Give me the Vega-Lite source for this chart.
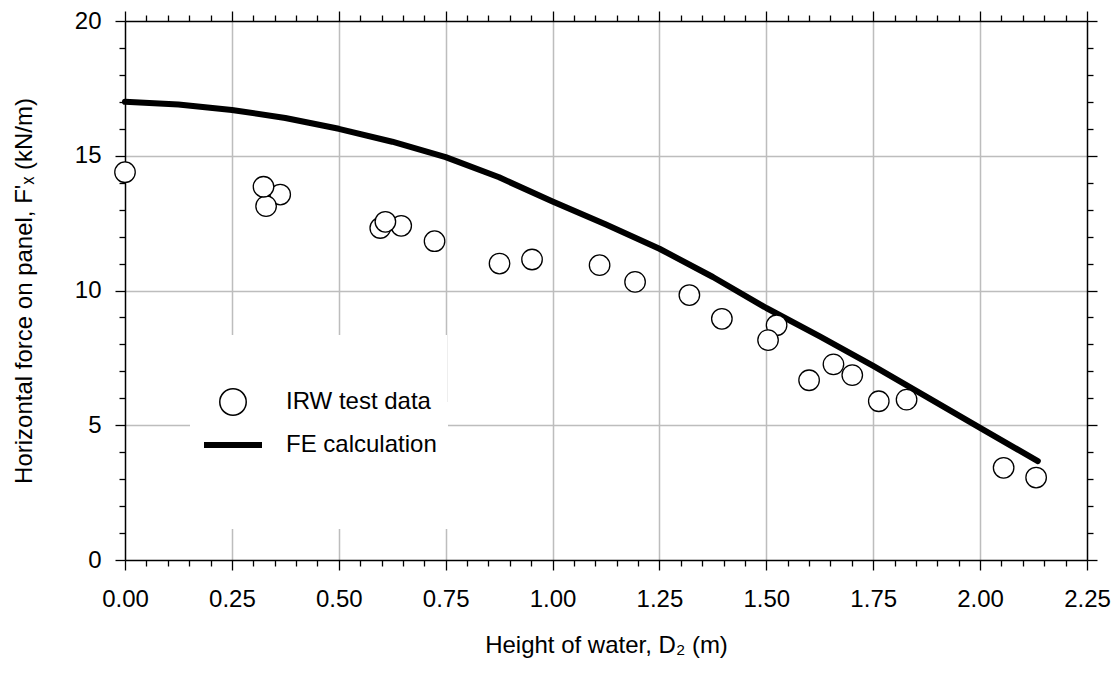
{
  "$schema": "https://vega.github.io/schema/vega-lite/v6.json",
  "autosize": {"type": "none"},
  "padding": {"left": 125, "top": 21, "right": 32, "bottom": 113},
  "width": 962,
  "height": 539,
  "background": "white",
  "config": {
    "view": {"stroke": null},
    "font": "Liberation Sans",
    "axis": {
      "domainColor": "black",
      "domainWidth": 1.5,
      "tickColor": "black",
      "tickWidth": 1.3,
      "labelFont": "Liberation Sans",
      "labelFontSize": 24,
      "labelColor": "black",
      "titleFont": "Liberation Sans",
      "titleFontSize": 24,
      "titleFontWeight": "normal",
      "titleColor": "black",
      "gridColor": "#bdbdbd",
      "gridWidth": 1.5,
      "labelOverlap": false,
      "labelFlush": false,
      "labelBound": false
    },
    "legend": {
      "labelFont": "Liberation Sans",
      "labelFontSize": 24,
      "labelColor": "black",
      "titleFont": "Liberation Sans",
      "titleFontWeight": "normal",
      "titleColor": "black",
      "fillColor": "white",
      "orient": "none",
      "symbolOpacity": 1
    }
  },
  "datasets": {
    "irw": [
      {"x": 0.0, "y": 14.39, "series": "IRW test data"},
      {"x": 0.363, "y": 13.56, "series": "IRW test data"},
      {"x": 0.33, "y": 13.13, "series": "IRW test data"},
      {"x": 0.324, "y": 13.85, "series": "IRW test data"},
      {"x": 0.597, "y": 12.32, "series": "IRW test data"},
      {"x": 0.646, "y": 12.4, "series": "IRW test data"},
      {"x": 0.609, "y": 12.55, "series": "IRW test data"},
      {"x": 0.724, "y": 11.83, "series": "IRW test data"},
      {"x": 0.876, "y": 11.0, "series": "IRW test data"},
      {"x": 0.952, "y": 11.15, "series": "IRW test data"},
      {"x": 1.11, "y": 10.94, "series": "IRW test data"},
      {"x": 1.193, "y": 10.32, "series": "IRW test data"},
      {"x": 1.32, "y": 9.83, "series": "IRW test data"},
      {"x": 1.396, "y": 8.95, "series": "IRW test data"},
      {"x": 1.524, "y": 8.71, "series": "IRW test data"},
      {"x": 1.504, "y": 8.16, "series": "IRW test data"},
      {"x": 1.6, "y": 6.67, "series": "IRW test data"},
      {"x": 1.701, "y": 6.86, "series": "IRW test data"},
      {"x": 1.657, "y": 7.26, "series": "IRW test data"},
      {"x": 1.763, "y": 5.89, "series": "IRW test data"},
      {"x": 1.828, "y": 5.95, "series": "IRW test data"},
      {"x": 2.055, "y": 3.42, "series": "IRW test data"},
      {"x": 2.131, "y": 3.06, "series": "IRW test data"}
    ],
    "fe": [
      {"x": 0.0, "y": 17.0, "series": "FE calculation"},
      {"x": 0.125, "y": 16.9, "series": "FE calculation"},
      {"x": 0.25, "y": 16.7, "series": "FE calculation"},
      {"x": 0.375, "y": 16.4, "series": "FE calculation"},
      {"x": 0.5, "y": 16.0, "series": "FE calculation"},
      {"x": 0.625, "y": 15.52, "series": "FE calculation"},
      {"x": 0.75, "y": 14.95, "series": "FE calculation"},
      {"x": 0.875, "y": 14.2, "series": "FE calculation"},
      {"x": 1.0, "y": 13.3, "series": "FE calculation"},
      {"x": 1.125, "y": 12.45, "series": "FE calculation"},
      {"x": 1.25, "y": 11.55, "series": "FE calculation"},
      {"x": 1.375, "y": 10.5, "series": "FE calculation"},
      {"x": 1.5, "y": 9.35, "series": "FE calculation"},
      {"x": 1.625, "y": 8.3, "series": "FE calculation"},
      {"x": 1.75, "y": 7.2, "series": "FE calculation"},
      {"x": 1.875, "y": 6.05, "series": "FE calculation"},
      {"x": 2.0, "y": 4.9, "series": "FE calculation"},
      {"x": 2.135, "y": 3.67, "series": "FE calculation"}
    ]
  },
  "resolve": {"axis": {"x": "independent", "y": "independent"}},
  "layer": [
    {
      "data": {"name": "fe"},
      "mark": {"type": "line", "strokeWidth": 6, "strokeCap": "round", "strokeJoin": "round"},
      "encoding": {
        "x": {
          "field": "x", "type": "quantitative",
          "scale": {"domain": [0, 2.25], "nice": false, "zero": false},
          "axis": {
            "orient": "bottom",
            "title": "Height of water, D₂ (m)",
            "values": [0,0.05,0.1,0.15,0.2,0.25,0.3,0.35,0.4,0.45,0.5,0.55,0.6,0.65,0.7,0.75,0.8,0.85,0.9,0.95,1,1.05,1.1,1.15,1.2,1.25,1.3,1.35,1.4,1.45,1.5,1.55,1.6,1.65,1.7,1.75,1.8,1.85,1.9,1.95,2,2.05,2.1,2.15,2.2,2.25],
            "labelExpr": "abs(datum.value*4 - round(datum.value*4)) < 0.001 ? format(datum.value, '.2f') : ''",
            "tickSize": {"condition": {"test": "abs(datum.value*4 - round(datum.value*4)) < 0.001", "value": 10}, "value": 6},
            "grid": true,
            "gridOpacity": {"condition": {"test": "abs(datum.value*4 - round(datum.value*4)) < 0.001 && datum.value > 0.001 && datum.value < 2.249", "value": 1}, "value": 0},
            "labelPadding": 17,
            "titlePadding": 22
          }
        },
        "y": {
          "field": "y", "type": "quantitative",
          "scale": {"domain": [0, 20], "nice": false},
          "axis": {
            "orient": "left",
            "title": "Horizontal force on panel, F'ₓ (kN/m)",
            "values": [0,1,2,3,4,5,6,7,8,9,10,11,12,13,14,15,16,17,18,19,20],
            "labelExpr": "datum.value % 5 == 0 ? format(datum.value, 'd') : ''",
            "tickSize": {"condition": {"test": "datum.value % 5 == 0", "value": 10}, "value": 6},
            "grid": true,
            "gridOpacity": {"condition": {"test": "datum.value % 5 == 0 && datum.value > 0 && datum.value < 20", "value": 1}, "value": 0},
            "labelPadding": 14,
            "titlePadding": 38
          }
        },
        "color": {
          "field": "series", "type": "nominal",
          "scale": {"domain": ["FE calculation"], "range": ["black"]},
          "legend": {
            "title": "\u00a0\u00a0\u00a0\u00a0\u00a0\u00a0\u00a0\u00a0\u00a0\u00a0\u00a0\u00a0\u00a0\u00a0\u00a0\u00a0\u00a0\u00a0\u00a0\u00a0\u00a0\u00a0\u00a0\u00a0\u00a0\u00a0\u00a0\u00a0\u00a0\u00a0\u00a0\u00a0\u00a0\u00a0\u00a0\u00a0\u00a0\u00a0\u00a0\u00a0\u00a0\u00a0\u00a0\u00a0\u00a0\u00a0\u00a0\u00a0\u00a0\u00a0\u00a0",
            "titleOrient": "bottom",
            "titleFontSize": 20,
            "titlePadding": 41,
            "legendX": 65,
            "legendY": 381,
            "padding": 11,
            "zindex": 1,
            "symbolType": "stroke",
            "symbolSize": 3364,
            "symbolStrokeWidth": 6,
            "labelOffset": 21,
            "encode": {
              "symbols": {
                "update": {
                  "stroke": {"value": "black"},
                  "strokeWidth": {"value": 6}
                }
              }
            }
          }
        }
      }
    },
    {
      "data": {"name": "irw"},
      "mark": {"type": "point", "filled": false, "fill": "white", "color": "black", "strokeWidth": 1.3, "size": 420, "opacity": 1, "fillOpacity": 1},
      "encoding": {
        "x": {
          "field": "x", "type": "quantitative",
          "axis": {
            "orient": "top",
            "title": null,
            "labels": false,
            "grid": false,
            "values": [0,0.05,0.1,0.15,0.2,0.25,0.3,0.35,0.4,0.45,0.5,0.55,0.6,0.65,0.7,0.75,0.8,0.85,0.9,0.95,1,1.05,1.1,1.15,1.2,1.25,1.3,1.35,1.4,1.45,1.5,1.55,1.6,1.65,1.7,1.75,1.8,1.85,1.9,1.95,2,2.05,2.1,2.15,2.2,2.25],
            "tickSize": {"condition": {"test": "abs(datum.value*4 - round(datum.value*4)) < 0.001", "value": 10}, "value": 6}
          }
        },
        "y": {
          "field": "y", "type": "quantitative",
          "axis": {
            "orient": "right",
            "title": null,
            "labels": false,
            "grid": false,
            "values": [0,1,2,3,4,5,6,7,8,9,10,11,12,13,14,15,16,17,18,19,20],
            "tickSize": {"condition": {"test": "datum.value % 5 == 0", "value": 10}, "value": 6}
          }
        },
        "shape": {
          "field": "series", "type": "nominal",
          "scale": {"domain": ["IRW test data"], "range": ["circle"]},
          "legend": {
            "title": "\u00a0\u00a0\u00a0\u00a0\u00a0\u00a0\u00a0\u00a0\u00a0\u00a0\u00a0\u00a0\u00a0\u00a0\u00a0\u00a0\u00a0\u00a0\u00a0\u00a0\u00a0\u00a0\u00a0\u00a0\u00a0\u00a0\u00a0\u00a0\u00a0\u00a0\u00a0\u00a0\u00a0\u00a0\u00a0\u00a0\u00a0\u00a0\u00a0\u00a0\u00a0\u00a0\u00a0\u00a0\u00a0\u00a0\u00a0",
            "titleOrient": "top",
            "titleFontSize": 20,
            "titlePadding": 17,
            "legendX": 78,
            "legendY": 314,
            "padding": 16,
            "zindex": 2,
            "symbolSize": 700,
            "symbolStrokeWidth": 1.5,
            "labelOffset": 39,
            "encode": {
              "symbols": {
                "update": {
                  "stroke": {"value": "black"},
                  "fill": {"value": "white"},
                  "strokeWidth": {"value": 1.5}
                }
              }
            }
          }
        }
      }
    }
  ]
}
